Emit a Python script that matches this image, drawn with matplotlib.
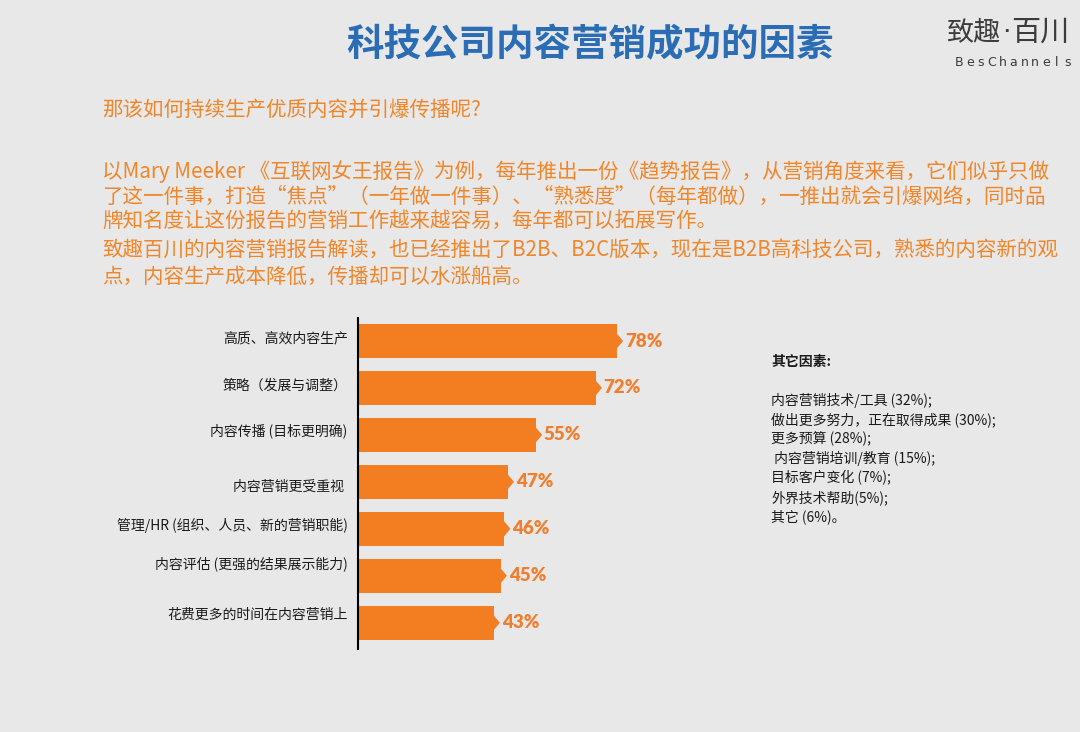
import numpy as np
import matplotlib
matplotlib.use('Agg')
import matplotlib.pyplot as plt
from matplotlib.patches import Polygon

plt.rcParams['font.family'] = ['Noto Sans CJK SC', 'DejaVu Sans']

#******** Data *************
factors = ['高质、高效内容生产', '策略（发展与调整）', '内容传播 (目标更明确)',
           '内容营销更受重视 ', '管理/HR (组织、人员、新的营销职能)',
           '内容评估 (更强的结果展示能力)', '花费更多的时间在内容营销上']
shares = [78, 72, 55, 47, 46, 45, 43]

other_title = '其它因素:'
other_factors = ['内容营销技术/工具 (32%);', '做出更多努力，正在取得成果 (30%);',
                 '更多预算 (28%);', ' 内容营销培训/教育 (15%);', '目标客户变化 (7%);',
                 '外界技术帮助(5%);', '其它 (6%)。']

title = '科技公司内容营销成功的因素'
question = '那该如何持续生产优质内容并引爆传播呢?'
paragraph = ['以Mary Meeker 《互联网女王报告》为例，每年推出一份《趋势报告》，从营销角度来看，它们似乎只做',
             '了这一件事，打造“焦点”（一年做一件事）、“熟悉度”（每年都做），一推出就会引爆网络，同时品',
             '牌知名度让这份报告的营销工作越来越容易，每年都可以拓展写作。',
             '致趣百川的内容营销报告解读，也已经推出了B2B、B2C版本，现在是B2B高科技公司，熟悉的内容新的观',
             '点，内容生产成本降低，传播却可以水涨船高。']

#******** Style *************
bg = '#e8e8e8'
bar_col = '#f37e22'
lab_col = '#ef7f2e'
txt_orange = '#f0862a'
blue = '#2a6db5'
logo_col = '#3c3c3c'

W, H = 1080, 732
fig = plt.figure(figsize=(W / 100, H / 100), dpi=100, facecolor=bg)

def fx(px):
    return px / W

def fy(py):
    return 1 - py / H

# titles / header
fig.text(fx(590), fy(45), title, ha='center', va='center', fontsize=27,
         fontweight='bold', color=blue)
# logo: narrow middle dot between the two word parts
fig.text(fx(1001), fy(33), '致趣', ha='right', va='center', fontsize=19.5,
         fontweight='light', color=logo_col)
fig.text(fx(1006), fy(33), '·', ha='center', va='center', fontsize=19,
         color=logo_col, family='DejaVu Sans')
fig.text(fx(1011), fy(33), '百川', ha='left', va='center', fontsize=21,
         fontweight='light', color=logo_col)
logo_sub = 'BesChannels'
for i, ch in enumerate(logo_sub):
    fig.text(fx(959 + i * 10.9), fy(63), ch, ha='center', va='center',
             fontsize=9, color=logo_col, family='DejaVu Sans')

fig.text(fx(102), fy(110), question, ha='left', va='center', fontsize=14.8,
         color=txt_orange)
para_y = [172, 197, 221, 250, 277]
for line, yy in zip(paragraph, para_y):
    fig.text(fx(102), fy(yy), line, ha='left', va='center', fontsize=14.8,
             color=txt_orange)

# other factors block
fig.text(fx(771), fy(362), other_title, ha='left', va='center', fontsize=10,
         fontweight='bold', color='#1a1a1a')
for i, line in enumerate(other_factors):
    fig.text(fx(771), fy(400 + i * 19.5), line, ha='left', va='center',
             fontsize=10, color='#1a1a1a')

#******** Bar chart *************
x0, x1 = 4.5, 118.7
ax = fig.add_axes([fx(358), fy(649), fx(760 - 358), (649 - 318) / H])
ax.set_facecolor(bg)
ypos = np.arange(len(shares))
ax.barh(ypos, shares, height=0.72, color=bar_col, zorder=2)

tip_w = 1.8
tip_h = 0.17
for y, v in zip(ypos, shares):
    ax.add_patch(Polygon([[v - 0.1, y - tip_h], [v + tip_w, y], [v - 0.1, y + tip_h]],
                         closed=True, color=bar_col, lw=0, zorder=2))
    ax.text(v + tip_w + 0.5, y, f'{v}%', ha='left', va='center', fontsize=13.5,
            fontweight='heavy', color=lab_col, family=['Lato', 'DejaVu Sans'])

# label offsets (px) so each name sits where the reference puts it
label_dy = [-3, -2, -4, 5, -3, -12, -8]
for y, name, dy in zip(ypos, factors, label_dy):
    ax.annotate(name, (x0, y), xytext=(-7.5, -dy * 0.72), textcoords='offset points',
                ha='right', va='center', fontsize=10, color='#1a1a1a',
                annotation_clip=False)

ax.set_xlim(x0, x1)
ax.set_ylim(6.56, -0.49)
for s in ['top', 'right', 'bottom']:
    ax.spines[s].set_visible(False)
ax.spines['left'].set_color('black')
ax.spines['left'].set_linewidth(1.5)
ax.spines['left'].set_zorder(3)
ax.set_xticks([])
ax.set_yticks([])

fig.savefig('out.png', dpi=100, facecolor=bg)
